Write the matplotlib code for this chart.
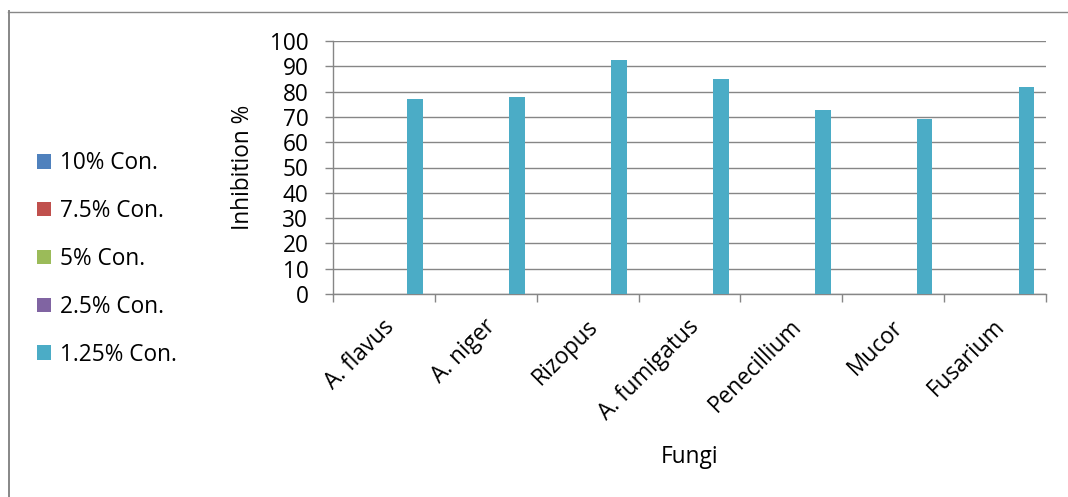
import matplotlib
matplotlib.use("Agg")
import matplotlib.pyplot as plt
import numpy as np
from matplotlib.lines import Line2D
from matplotlib.patches import Patch
import matplotlib.transforms as mtransforms

plt.rcParams["font.family"] = ["Open Sans", "DejaVu Sans"]

# Data
fungi = ["A. flavus", "A. niger", "Rizopus", "A. fumigatus", "Penecillium", "Mucor", "Fusarium"]
series_names = ["10% Con.", "7.5% Con.", "5% Con.", "2.5% Con.", "1.25% Con."]
series_colors = ["#4F81BD", "#C0504D", "#9BBB59", "#8064A2", "#4BACC6"]
inhib_10 = [0, 0, 0, 0, 0, 0, 0]
inhib_7_5 = [0, 0, 0, 0, 0, 0, 0]
inhib_5 = [0, 0, 0, 0, 0, 0, 0]
inhib_2_5 = [0, 0, 0, 0, 0, 0, 0]
inhib_1_25 = [77, 77.7, 92.6, 85, 72.7, 69.3, 81.7]
series_values = [inhib_10, inhib_7_5, inhib_5, inhib_2_5, inhib_1_25]
y_ticks = list(range(0, 101, 10))

W, H = 1068, 497
fig = plt.figure(figsize=(W / 100, H / 100), dpi=100)
ax = fig.add_axes([333 / W, 1 - 294 / H, (1046 - 333) / W, (294 - 41) / H])

grid_color = "#868686"
fs = 16.3

n = len(series_names)
bar_w = 1 / (n + 1.5)
x = np.arange(len(fungi))
for k, (name, vals, col) in enumerate(zip(series_names, series_values, series_colors)):
    ax.bar(x + (k - (n - 1) / 2) * bar_w, vals, width=bar_w, color=col,
           label=name, linewidth=0, zorder=3)

ax.set_xlim(-0.5, len(fungi) - 0.5)
ax.set_ylim(0, 100)
ax.set_yticks(y_ticks)
ax.yaxis.grid(True, color=grid_color, linewidth=1.0, zorder=0)
ax.set_axisbelow(True)

for s in ["top", "right"]:
    ax.spines[s].set_visible(False)
for s in ["left", "bottom"]:
    ax.spines[s].set_color(grid_color)
    ax.spines[s].set_linewidth(1.0)

ax.tick_params(axis="y", direction="out", length=5.8, width=1.0, color=grid_color,
               labelsize=fs, pad=12)
ax.set_xticks(x)
ax.set_xticks(np.arange(len(fungi) + 1) - 0.5, minor=True)
ax.tick_params(axis="x", which="major", length=0, labelsize=fs, pad=15)
ax.tick_params(axis="x", which="minor", direction="out", length=5.8, width=1.0,
               color=grid_color)
ax.set_xticklabels(fungi, rotation=45, ha="right", va="top", rotation_mode="anchor")
shift = mtransforms.ScaledTranslation(-2 / 100, 0, fig.dpi_scale_trans)
for lbl in ax.get_xticklabels():
    lbl.set_transform(lbl.get_transform() + shift)

ax.set_xlabel("Fungi", fontsize=fs, va="center")
ax.xaxis.set_label_coords(0.5, (40 / H - (1 - 294 / H)) / ((294 - 41) / H))
ax.set_ylabel("Inhibition %", fontsize=fs, va="center")
ax.yaxis.set_label_coords((243 - 333) / (1046 - 333), 0.5)

handles = [Patch(facecolor=c, edgecolor="none") for c in series_colors]
fig.legend(handles, series_names, loc="center left",
           bbox_to_anchor=(37 / W, 1 - 259 / H), frameon=False, fontsize=fs,
           handlelength=0.6, handleheight=0.6, handletextpad=0.4,
           labelspacing=1.05, borderpad=0, borderaxespad=0)

# Outer frame (top and left edges)
fig.add_artist(Line2D([8 / W, 1], [1 - 11.5 / H, 1 - 11.5 / H], transform=fig.transFigure,
                      color="#878787", linewidth=1.0))
fig.add_artist(Line2D([8.5 / W, 8.5 / W], [0, 1 - 11 / H], transform=fig.transFigure,
                      color="#878787", linewidth=1.4))

fig.savefig("out.png", dpi=100)
